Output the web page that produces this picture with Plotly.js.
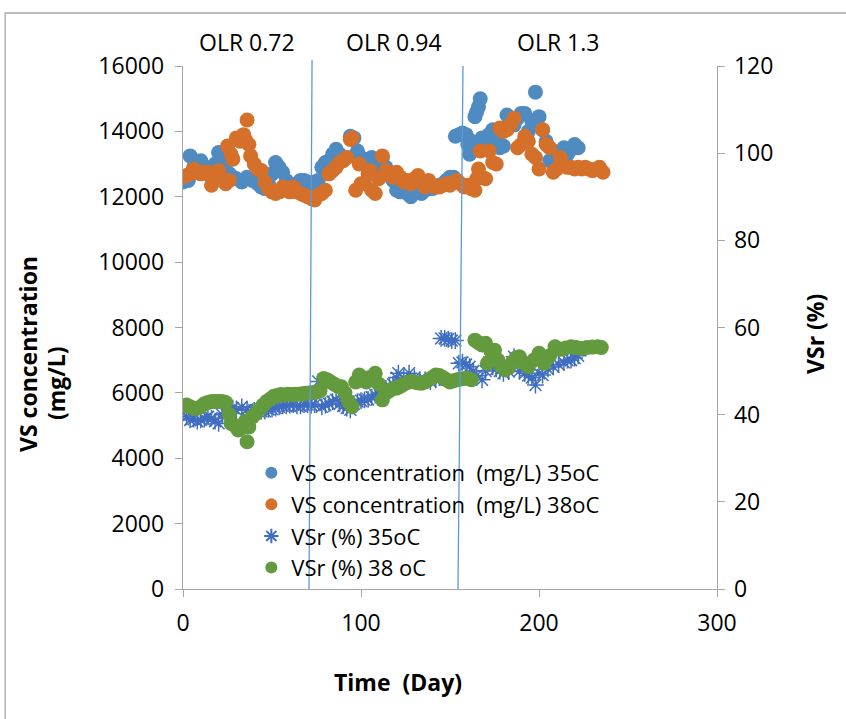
<!DOCTYPE html>
<html><head><meta charset="utf-8">
<script src="https://cdn.plot.ly/plotly-3.0.1.min.js"></script>
<style>html,body{margin:0;padding:0;background:#fff}#chart{width:846px;height:719px}</style>
</head><body><div id="chart"></div>
<script>
const day35 = [0,2,3,4,6,8,10,12,14,16,18,20,22,24,26,28,30,33,36,39,42,44,46,48,50,52,54,56,58,60,62,64,66,68,70,72,74,76,78,80,82,84,86,88,90,92,94,96,98,100,102,104,106,108,110,112,114,116,118,120,122,124,126,128,130,132,134,136,138,140,142,144,146,148,150,152,153,155,157,159,160,161,162,163,164,165,166,167,168,170,172,174,176,178,180,182,184,186,188,190,192,194,196,198,200,202,204,206,208,210,212,214,216,218,220,222];
const vs35 = [12450,12550,12500,13250,12900,13050,13100,12800,12700,12900,13000,13350,13100,12800,12700,12600,12550,12450,12600,12500,12400,12300,12250,12400,12700,13050,12900,12750,12500,12350,12300,12400,12500,12500,12450,12400,12450,12500,12900,13050,13100,13300,13450,13300,13150,13200,13850,13800,13400,13200,13150,13100,13200,12900,12800,13200,12900,12700,12500,12200,12150,12300,12100,12000,12200,12150,12100,12200,12300,12250,12300,12350,12400,12500,12600,12600,13850,13900,13950,13900,13600,13300,13700,13450,14450,14600,14750,15000,13800,13600,13900,14050,13700,13500,13550,14500,14300,14200,14400,14550,14550,14000,14300,15200,14450,14050,13700,13100,13400,13350,13300,13500,13300,13450,13600,13500];

const day38 = [0,2,4,6,8,10,12,14,16,18,20,22,24,25,26,27,28,30,32,34,35,36,37,38,40,42,44,46,48,50,52,54,56,58,60,62,64,66,68,70,72,74,76,78,80,82,84,86,88,90,92,94,95,97,99,100,102,104,105,106,108,110,112,114,116,118,120,122,124,126,128,130,132,134,136,138,140,142,144,146,148,150,152,154,156,158,160,162,164,165,166,167,168,170,172,174,176,178,180,182,184,186,188,190,192,194,196,198,200,202,204,206,208,210,212,214,216,218,220,222,224,226,228,230,232,234,236];
const vs38 = [12600,12650,12700,12850,12750,12700,12750,12750,12350,12700,12800,12550,12400,13550,12500,13300,13150,13800,13700,13900,13750,14350,13600,13250,13000,12850,12800,12450,12250,12150,12100,12150,12300,12250,12150,12300,12150,12100,12050,12000,11950,11900,12050,12100,12200,12700,12800,12900,13050,13100,13200,13750,13800,12200,13000,12400,12400,12700,12800,12200,12100,12550,13250,12800,12700,12600,12750,12600,12450,12500,12400,12550,12650,12450,12300,12500,12350,12300,12300,12350,12400,12350,12450,12500,12400,12300,12350,12250,12200,12550,12850,13400,12600,12550,13400,13050,13000,14100,14000,14050,14200,14400,13500,13600,13850,13700,13300,13200,12850,14050,13600,13500,12750,12850,13200,12950,12900,12900,12850,12900,12850,12900,12850,12800,12850,12900,12750];

const dayR35 = [0,2,4,6,8,10,12,14,16,18,20,22,24,26,28,30,33,36,38,40,42,44,46,48,50,52,54,56,58,60,62,64,66,68,70,72,74,76,78,80,82,84,86,88,90,92,94,96,98,100,102,104,106,108,110,112,114,116,118,120,121,124,127,130,133,136,139,142,144,145,147,149,151,153,155,157,159,161,163,165,168,170,172,174,176,178,180,183,186,189,192,194,196,198,200,202,205,208,211,214,216,218,220,222];
const vsr35 = [40.5,39.5,38.8,39.0,38.5,38.8,39.0,39.5,39.2,38.5,38.0,40.0,40.3,41.0,41.5,41.0,41.8,41.2,40.5,41.0,40.8,40.8,40.8,41.2,41.3,41.5,41.8,42.0,42.0,42.2,42.3,42.0,42.0,42.3,42.3,42.2,42.3,47.6,41.8,42.2,42.5,43.0,43.4,42.5,42.0,41.5,41.1,42.5,43.0,43.2,43.4,43.5,44.0,44.5,45.0,45.5,46.0,46.5,47.0,48.5,49.5,48.5,49.5,48.5,48.0,48.0,47.6,48.0,48.5,57.5,57.5,57.3,57.0,57.0,51.8,52.0,51.5,51.0,50.0,49.0,48.0,50.0,52.0,51.0,50.5,50.0,49.5,49.9,53.3,50.0,49.5,49.0,48.5,46.8,49.5,49.1,50.5,51.0,51.5,52.0,52.5,52.5,53.0,53.5];

const dayR38 = [0,2,4,6,8,10,12,14,16,18,20,22,24,26,27,29,31,33,35,36,37,39,41,43,45,47,49,51,53,55,57,59,61,63,65,67,69,71,73,75,77,79,81,83,85,87,89,91,93,95,97,99,101,103,105,108,110,112,114,116,118,120,122,124,126,128,130,132,134,136,138,140,142,144,146,148,150,152,154,156,158,160,162,164,166,168,170,171,173,175,177,179,181,183,185,187,189,191,194,197,200,203,206,209,212,215,218,221,224,227,230,233,235];
const vsr38 = [42.0,42.2,41.8,41.5,41.5,41.8,42.5,42.8,43.0,43.0,43.0,43.0,42.8,40.0,38.0,37.5,36.5,37.0,38.5,33.8,37.2,39.5,40.3,41.3,42.2,43.0,43.6,44.2,44.4,44.6,44.5,44.7,44.6,44.7,44.7,44.8,44.9,45.0,45.1,45.2,45.5,48.3,48.0,47.5,47.0,46.5,46.4,45.0,43.0,41.8,47.5,49.1,48.5,47.5,48.5,49.5,47.0,43.4,45.0,45.5,46.0,46.1,46.5,47.0,47.4,47.6,47.5,47.3,47.2,47.5,48.0,48.5,49.1,49.0,48.5,48.0,47.5,47.8,48.0,48.2,48.3,48.3,48.0,57.1,56.5,56.0,56.4,51.8,54.5,54.8,52.5,51.0,50.3,50.8,52.0,53.0,53.3,52.0,51.0,52.5,54.1,51.8,53.5,55.6,55.0,55.3,55.6,55.4,55.2,55.4,55.5,55.6,55.4];

const seriesNames = ['VS concentration  (mg/L) 35oC','VS concentration  (mg/L) 38oC','VSr (%) 35oC','VSr (%) 38 oC'];
const olrLabels = ['OLR 0.72','OLR 0.94','OLR 1.3'];
const olrLabelDays = [36.2, 118.8, 210.7];
const olrLineTop = [72.5, 157.3];
const olrLineBottom = [70.8, 154.5];
const xTicks = [0,100,200,300];
const yTicks = [0,2000,4000,6000,8000,10000,12000,14000,16000];
const y2Ticks = [0,20,40,60,80,100,120];

const FONT = 'Open Sans, Liberation Sans, sans-serif';
const FS = 23;
const axisGrey = '#a6a6a6';

const traces = [
  {x: day35, y: vs35, name: seriesNames[0], type:'scatter', mode:'markers',
   marker:{symbol:'circle', size:15, color:'#4f8bc1'}},
  {x: day38, y: vs38, name: seriesNames[1], type:'scatter', mode:'markers',
   marker:{symbol:'circle', size:15, color:'#d5702b'}},
  {x: dayR35, y: vsr35, name: seriesNames[2], type:'scatter', mode:'markers', yaxis:'y2',
   marker:{symbol:'asterisk-open', size:14, color:'#3f6dc0', line:{color:'#3f6dc0', width:1.5}}},
  {x: dayR38, y: vsr38, name: seriesNames[3], type:'scatter', mode:'markers', yaxis:'y2',
   marker:{symbol:'circle', size:15, color:'#649a3e'}}
];

const shapes = [
  {type:'rect', xref:'paper', yref:'paper', x0:-0.333, x1:1.3, y0:-0.3, y1:1.1013,
   line:{color:'#a6a6a6', width:1.3}, fillcolor:'rgba(0,0,0,0)', layer:'below'}
];
for (let i=0;i<olrLineTop.length;i++){
  shapes.push({type:'line', xref:'x', yref:'paper', x0:olrLineTop[i], x1:olrLineBottom[i],
    y0: i===0 ? 1.0115 : 1.0, y1:0, line:{color:'#5b9bd5', width:1.3}});
}
const annotations = olrLabels.map((t,i)=>({
  text:t, x:olrLabelDays[i], y:1.046, xref:'x', yref:'paper', showarrow:false,
  xanchor:'center', yanchor:'middle', font:{family:FONT, size:FS, color:'#000'}
}));
const titleFont = {family:FONT, size:FS, color:'#000'};
annotations.push(
  {text:'<b>VS concentration</b>', xref:'paper', yref:'paper', x:-0.2903, y:0.4493, textangle:-90,
   showarrow:false, xanchor:'center', yanchor:'middle', font:titleFont},
  {text:'<b>(mg/L)</b>', xref:'paper', yref:'paper', x:-0.2378, y:0.3939, textangle:-90,
   showarrow:false, xanchor:'center', yanchor:'middle', font:titleFont},
  {text:'<b>VSr (%)</b>', xref:'paper', yref:'paper', x:1.1835, y:0.4876, textangle:-90,
   showarrow:false, xanchor:'center', yanchor:'middle', font:titleFont},
  {text:'<b>Time  (Day)</b>', xref:'paper', yref:'paper', x:0.4026, y:-0.1778,
   showarrow:false, xanchor:'center', yanchor:'middle', font:titleFont}
);

const layout = {
  width:846, height:719,
  margin:{l:183, r:129, t:66, b:130},
  paper_bgcolor:'#fff', plot_bgcolor:'#fff',
  font:{family:FONT, size:FS, color:'#000'},
  showlegend:true,
  legend:{x:0.128, y:0.262, xanchor:'left', yanchor:'top', bgcolor:'rgba(0,0,0,0)',
          font:{family:FONT, size:22, color:'#000'}, tracegroupgap:0, itemsizing:'constant'},
  xaxis:{range:[0,300], tickvals:xTicks, tickformat:'d', ticks:'outside', ticklen:7, tickcolor:axisGrey,
         showline:true, linecolor:axisGrey, linewidth:1.3, showgrid:false, zeroline:false,
         ticklabelstandoff:6, tickfont:{family:FONT, size:FS}},
  yaxis:{range:[0,16000], tickvals:yTicks, tickformat:'d', ticks:'outside', ticklen:7, tickcolor:axisGrey,
         showline:true, linecolor:axisGrey, linewidth:1.3, showgrid:false, zeroline:false,
         ticklabelstandoff:6, tickfont:{family:FONT, size:FS}},
  yaxis2:{range:[0,120], tickvals:y2Ticks, tickformat:'d', overlaying:'y', side:'right', ticks:'outside', ticklen:7,
          tickcolor:axisGrey, showline:true, linecolor:axisGrey, linewidth:1.3, showgrid:false, zeroline:false,
          ticklabelstandoff:4, tickfont:{family:FONT, size:FS}},
  shapes:shapes,
  annotations:annotations
};
Plotly.newPlot('chart', traces, layout, {staticPlot:true});
</script></body></html>
